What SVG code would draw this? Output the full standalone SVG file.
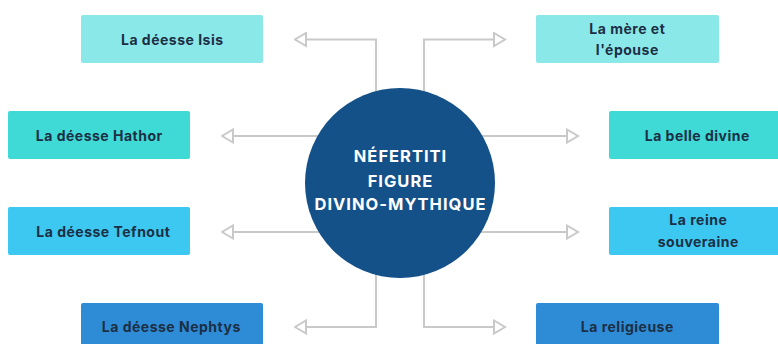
<svg xmlns="http://www.w3.org/2000/svg" width="778" height="344" viewBox="0 0 778 344">
  <defs>
    <marker id="arr" viewBox="0 0 14 16" markerUnits="userSpaceOnUse" markerWidth="14" markerHeight="16" refX="12.5" refY="8" orient="auto">
      <path d="M1.5,1.5 L12.5,8 L1.5,14.5 Z" fill="#ffffff" stroke="#c9c9c9" stroke-width="2" stroke-linejoin="miter"/>
    </marker>
    <style>
      .conn { fill: none; stroke: #c9c9c9; stroke-width: 2; marker-end: url(#arr); }
      .box { stroke: none; }
      .c1 { fill: #8be8e8; }
      .c2 { fill: #3fd9d6; }
      .c3 { fill: #3cc8f0; }
      .c4 { fill: #2e8bd6; }
      .lbl { font-family: Inter, "Liberation Sans", sans-serif; font-weight: 700; font-size: 14px; letter-spacing: 0.5px; fill: #1c2f44; text-anchor: middle; }
      .ctr { font-family: Inter, "Liberation Sans", sans-serif; font-weight: 700; font-size: 16.5px; letter-spacing: 1px; fill: #ffffff; text-anchor: middle; }
    </style>
  </defs>
  <rect width="778" height="344" fill="#ffffff"/>

  <g id="connectors">
    <path class="conn" d="M376,130 V39.5 H295"/>
    <path class="conn" d="M424,130 V39.5 H505"/>
    <path class="conn" d="M340,136 H222"/>
    <path class="conn" d="M460,136 H578"/>
    <path class="conn" d="M340,232 H222"/>
    <path class="conn" d="M460,232 H578"/>
    <path class="conn" d="M376,240 V327 H295"/>
    <path class="conn" d="M424,240 V327 H505"/>
  </g>

  <g id="center">
    <circle cx="400" cy="183" r="95" fill="#145189"/>
    <text class="ctr" x="400.5" y="162">NÉFERTITI</text>
    <text class="ctr" x="400.5" y="187">FIGURE</text>
    <text class="ctr" x="400.5" y="210">DIVINO-MYTHIQUE</text>
  </g>

  <g id="isis">
    <rect class="box c1" x="81" y="15" width="182" height="48" rx="2"/>
    <text class="lbl" x="172.3" y="45">La déesse Isis</text>
  </g>
  <g id="hathor">
    <rect class="box c2" x="8" y="111" width="182" height="48" rx="2"/>
    <text class="lbl" x="99.3" y="141">La déesse Hathor</text>
  </g>
  <g id="tefnout">
    <rect class="box c3" x="8" y="207" width="182" height="48" rx="2"/>
    <text class="lbl" x="103.3" y="237">La déesse Tefnout</text>
  </g>
  <g id="nephthys">
    <rect class="box c4" x="81" y="303" width="182" height="48" rx="2"/>
    <text class="lbl" x="171.3" y="332">La déesse Nephtys</text>
  </g>
  <g id="mere">
    <rect class="box c1" x="536" y="15" width="183" height="48" rx="2"/>
    <text class="lbl" x="627.3" y="34">La mère et</text>
    <text class="lbl" x="627.3" y="55">l'épouse</text>
  </g>
  <g id="belle">
    <rect class="box c2" x="609" y="111" width="180" height="48" rx="2"/>
    <text class="lbl" x="697.3" y="141">La belle divine</text>
  </g>
  <g id="reine">
    <rect class="box c3" x="609" y="207" width="180" height="48" rx="2"/>
    <text class="lbl" x="698.3" y="225">La reine</text>
    <text class="lbl" x="698.3" y="247">souveraine</text>
  </g>
  <g id="religieuse">
    <rect class="box c4" x="536" y="303" width="183" height="48" rx="2"/>
    <text class="lbl" x="627.3" y="332">La religieuse</text>
  </g>
</svg>
